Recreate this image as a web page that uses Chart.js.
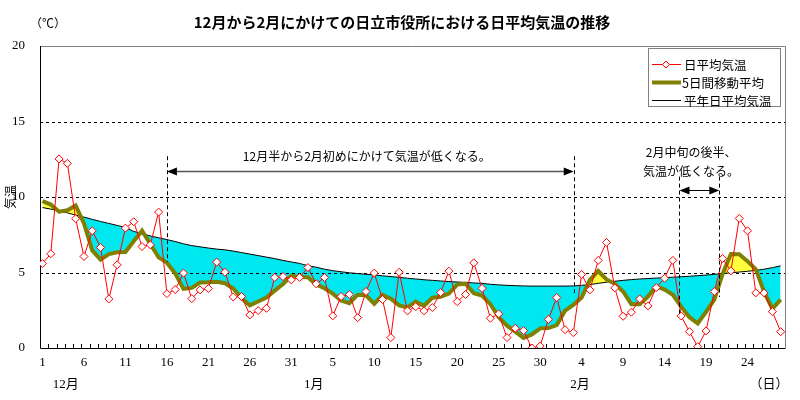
<!DOCTYPE html>
<html>
<head>
<meta charset="utf-8">
<script src="https://cdn.jsdelivr.net/npm/chart.js@4.4.0/dist/chart.umd.min.js"></script>
<style>
    body { margin: 0; background: #fff; }
    #wrap { width: 800px; height: 400px; }
</style>
</head>
<body>
<div id="wrap"><canvas id="tempChart" width="800" height="400"></canvas></div>
<script>
// 12/1 - 2/28, one value per day
const dailyTemp = [
    5.59, 6.24, 12.52, 12.23, 8.56, 6.06, 7.76, 6.66, 3.25, 5.51,
    7.94, 8.36, 6.72, 6.83, 9.00, 3.60, 3.87, 4.96, 3.27, 3.85,
    3.94, 5.69, 5.02, 3.38, 3.41, 2.19, 2.48, 2.63, 4.67, 4.73,
    4.51, 4.67, 5.33, 4.25, 4.67, 2.13, 3.41, 3.54, 2.01, 3.74,
    4.96, 3.21, 0.69, 5.02, 2.46, 2.74, 2.46, 2.68, 3.67, 5.09,
    3.07, 3.54, 5.64, 3.95, 1.97, 2.26, 0.69, 1.31, 1.15, 0.00,
    0.13, 1.90, 3.34, 1.21, 1.02, 4.87, 3.85, 5.80, 6.99, 3.98,
    2.10, 2.37, 3.25, 2.79, 4.00, 4.62, 5.80, 2.12, 1.08, 0.09,
    1.13, 3.74, 5.93, 5.11, 8.58, 7.76, 3.65, 3.65, 2.41, 1.08
];

const movingAvg = [
    9.72, 9.50, 9.03, 9.12, 9.43, 8.25, 6.46, 5.85, 6.22, 6.34,
    6.36, 7.07, 7.77, 6.90, 6.00, 5.65, 4.94, 3.91, 3.98, 4.34,
    4.35, 4.38, 4.29, 3.94, 3.30, 2.82, 3.08, 3.34, 3.80, 4.24,
    4.78, 4.70, 4.69, 4.21, 3.96, 3.60, 3.15, 2.97, 3.53, 3.49,
    2.92, 3.52, 3.27, 2.82, 2.67, 3.07, 2.80, 3.33, 3.39, 3.61,
    4.20, 4.26, 3.63, 3.47, 2.90, 2.04, 1.48, 1.08, 0.66, 0.90,
    1.30, 1.32, 1.52, 2.47, 2.86, 3.35, 4.51, 5.10, 4.54, 4.25,
    3.74, 2.90, 2.90, 3.41, 4.09, 3.87, 3.52, 2.74, 2.04, 1.63,
    2.39, 3.20, 4.90, 6.22, 6.21, 5.75, 5.21, 3.71, 2.60, 3.20
];

const normalTemp = [
    9.30, 9.20, 9.09, 8.95, 8.80, 8.67, 8.52, 8.38, 8.25, 8.12,
    7.98, 7.72, 7.58, 7.42, 7.30, 7.18, 7.05, 6.90, 6.78, 6.70,
    6.62, 6.55, 6.50, 6.42, 6.32, 6.22, 6.12, 6.02, 5.92, 5.80,
    5.70, 5.60, 5.45, 5.35, 5.22, 5.12, 5.05, 4.98, 4.93, 4.88,
    4.84, 4.78, 4.73, 4.68, 4.62, 4.57, 4.52, 4.48, 4.44, 4.40,
    4.37, 4.34, 4.31, 4.28, 4.22, 4.18, 4.15, 4.13, 4.11, 4.10,
    4.10, 4.10, 4.10, 4.10, 4.11, 4.15, 4.20, 4.28, 4.36, 4.42,
    4.48, 4.53, 4.57, 4.60, 4.63, 4.66, 4.69, 4.72, 4.75, 4.79,
    4.83, 4.88, 4.93, 4.98, 5.03, 5.08, 5.14, 5.22, 5.32, 5.44
];

// labels under every 5th day
const tickDays = ['1', '6', '11', '16', '21', '26', '31', '5', '10', '15', '20', '25', '30', '4', '9', '14', '19', '24'];
const monthLabels = ['12月', '1月', '2月'];
const monthPos = [2.8, 32.7, 64.8];

const jpFont = '"Noto Sans CJK JP", "Noto Sans", sans-serif';
const numFont = '"Liberation Serif", "Noto Sans CJK JP", serif';

function toPoints(arr) {
    return arr.map((v, i) => ({ x: i, y: v }));
}

function drawArrow(ctx, x1, x2, y, color, width) {
    ctx.save();
    ctx.strokeStyle = color;
    ctx.fillStyle = '#000';
    ctx.lineWidth = width;
    ctx.beginPath();
    ctx.moveTo(x1 + 6, y);
    ctx.lineTo(x2 - 6, y);
    ctx.stroke();
    ctx.beginPath();
    ctx.moveTo(x1, y); ctx.lineTo(x1 + 10, y - 4); ctx.lineTo(x1 + 10, y + 4); ctx.closePath();
    ctx.moveTo(x2, y); ctx.lineTo(x2 - 10, y - 4); ctx.lineTo(x2 - 10, y + 4); ctx.closePath();
    ctx.fill();
    ctx.restore();
}

function vDash(ctx, x, y1, y2) {
    ctx.save();
    ctx.strokeStyle = '#000';
    ctx.lineWidth = 1;
    ctx.setLineDash([4, 3]);
    ctx.beginPath();
    ctx.moveTo(Math.round(x) + 0.5, y1);
    ctx.lineTo(Math.round(x) + 0.5, y2);
    ctx.stroke();
    ctx.restore();
}

// frame, grid lines, inward ticks
const framePlugin = {
    id: 'frame',
    beforeDatasetsDraw(chart) {
        const { ctx, chartArea: a, scales: { x, y } } = chart;
        ctx.save();
        ctx.strokeStyle = '#000';
        ctx.lineWidth = 1;
        ctx.setLineDash([3, 3]);
        [5, 10, 15].forEach(v => {
            const py = Math.round(y.getPixelForValue(v)) + 0.5;
            ctx.beginPath();
            ctx.moveTo(a.left, py);
            ctx.lineTo(a.right, py);
            ctx.stroke();
        });
        ctx.setLineDash([]);
        ctx.strokeStyle = '#808080';
        ctx.beginPath();
        ctx.moveTo(a.left, a.top + 0.5);
        ctx.lineTo(a.right + 0.5, a.top + 0.5);
        ctx.lineTo(a.right + 0.5, a.bottom);
        ctx.stroke();
        ctx.strokeStyle = '#000';
        ctx.beginPath();
        ctx.moveTo(a.left + 0.5, a.top);
        ctx.lineTo(a.left + 0.5, a.bottom + 0.5);
        ctx.lineTo(a.right + 0.5, a.bottom + 0.5);
        ctx.stroke();
        for (let n = 1; n < dailyTemp.length; n++) {
            const px = Math.round(x.getPixelForValue(n - 0.3)) + 0.5;
            ctx.beginPath();
            ctx.moveTo(px, a.bottom);
            ctx.lineTo(px, a.bottom - 4);
            ctx.stroke();
        }
        ctx.restore();
    },
    afterDatasetsDraw(chart) {
        const { ctx, chartArea: a, scales: { x, y } } = chart;
        const X = v => x.getPixelForValue(v);
        const Y = v => y.getPixelForValue(v);

        // annotation 1
        vDash(ctx, X(15.0), Y(12.7), Y(5.7));
        vDash(ctx, X(64.05), Y(12.7), Y(3.65));
        drawArrow(ctx, X(15.0), X(64.05), Math.round(Y(11.74)) + 0.5, '#555', 1.5);
        // annotation 2
        vDash(ctx, X(76.8), Y(11.35), Y(2.06));
        vDash(ctx, X(81.6), Y(11.35), Y(3.38));
        drawArrow(ctx, X(76.8), X(81.6), Math.round(Y(10.48)) + 0.5, '#000', 1);

        ctx.save();
        ctx.fillStyle = '#000';
        ctx.textAlign = 'center';
        ctx.textBaseline = 'middle';
        ctx.font = '12px ' + jpFont;
        ctx.fillText('12月半から2月初めにかけて気温が低くなる。', X(39.1), Y(12.67));
        ctx.fillText('2月中旬の後半、', X(78.2), Y(12.94));
        ctx.fillText('気温が低くなる。', X(78.2), Y(11.68));

        // legend box
        const lx = 648, ly = 48, lw = 132, lh = 58;
        ctx.fillStyle = '#fff';
        ctx.fillRect(lx, ly, lw, lh);
        ctx.strokeStyle = '#808080';
        ctx.lineWidth = 1;
        ctx.strokeRect(lx + 0.5, ly + 0.5, lw, lh);
        const rows = [
            { text: '日平均気温', color: '#ff0000', width: 1, marker: true },
            { text: '5日間移動平均', color: '#808000', width: 4, marker: false },
            { text: '平年日平均気温', color: '#000', width: 1, marker: false }
        ];
        ctx.textAlign = 'left';
        ctx.font = '12.5px ' + jpFont;
        rows.forEach((r, i) => {
            const ry = ly + 16 + i * 18;
            ctx.strokeStyle = r.color;
            ctx.lineWidth = r.width;
            ctx.beginPath();
            ctx.moveTo(lx + 4, ry + 0.5);
            ctx.lineTo(lx + 33, ry + 0.5);
            ctx.stroke();
            if (r.marker) {
                const mx = lx + 18;
                ctx.fillStyle = '#fff';
                ctx.lineWidth = 1;
                ctx.beginPath();
                ctx.moveTo(mx, ry - 3); ctx.lineTo(mx + 3.5, ry + 0.5); ctx.lineTo(mx, ry + 4); ctx.lineTo(mx - 3.5, ry + 0.5); ctx.closePath();
                ctx.fill();
                ctx.stroke();
            }
            ctx.fillStyle = '#000';
            ctx.fillText(r.text, lx + (r.width < 4 ? 36 : 34), ry + 1);
        });

        // title, unit, axis captions
        ctx.textAlign = 'center';
        ctx.font = 'bold 15px ' + jpFont;
        ctx.fillText('12月から2月にかけての日立市役所における日平均気温の推移', 402, 22);
        ctx.font = '12px ' + jpFont;
        ctx.fillText('（℃）', 48, 23);
        ctx.font = '13px ' + numFont;
        monthLabels.forEach((m, i) => ctx.fillText(m, X(monthPos[i]), a.bottom + 37));
        ctx.fillText('（日）', X(87.6), a.bottom + 37);
        ctx.translate(10, Y(10));
        ctx.rotate(-Math.PI / 2);
        ctx.font = '12px ' + jpFont;
        ctx.fillText('気温', 0, 0);
        ctx.restore();
    }
};

function createTempChart() {
    const ctx = document.getElementById('tempChart').getContext('2d');
    return new Chart(ctx, {
        type: 'line',
        data: {
            datasets: [{
                label: '日平均気温',
                data: toPoints(dailyTemp),
                borderColor: '#ff0000',
                borderWidth: 1,
                pointStyle: 'rectRot',
                pointRadius: 4,
                pointBackgroundColor: '#fff',
                pointBorderColor: '#ff0000',
                pointBorderWidth: 1,
                fill: false
            }, {
                label: '5日間移動平均',
                data: toPoints(movingAvg),
                borderColor: '#808000',
                borderWidth: 4,
                pointRadius: 0,
                fill: { target: 2, above: '#ffff40', below: '#00e8ef' }
            }, {
                label: '平年日平均気温',
                data: toPoints(normalTemp),
                borderColor: '#000',
                borderWidth: 1,
                pointRadius: 0,
                fill: false
            }]
        },
        options: {
            responsive: false,
            animation: false,
            layout: { padding: { top: 46, right: 15, left: 0, bottom: 0 } },
            plugins: {
                legend: { display: false },
                tooltip: { enabled: false },
                filler: { drawTime: 'beforeDatasetsDraw' }
            },
            scales: {
                x: {
                    type: 'linear',
                    min: -0.3,
                    max: 89.52,
                    grid: { display: false },
                    border: { display: false },
                    afterBuildTicks: scale => {
                        scale.ticks = tickDays.map((d, i) => ({ value: i * 5 }));
                    },
                    afterFit: scale => { scale.height = 52; },
                    ticks: {
                        autoSkip: false,
                        maxRotation: 0,
                        padding: -1,
                        color: '#000',
                        font: { family: numFont, size: 13 },
                        callback: value => tickDays[Math.round(value / 5)]
                    }
                },
                y: {
                    min: 0,
                    max: 20,
                    grid: { display: false },
                    border: { display: false },
                    afterFit: scale => { scale.width = 40; },
                    ticks: {
                        stepSize: 5,
                        padding: 7,
                        color: '#000',
                        font: { family: numFont, size: 13 }
                    }
                }
            }
        },
        plugins: [framePlugin]
    });
}

createTempChart();
</script>
</body>
</html>
